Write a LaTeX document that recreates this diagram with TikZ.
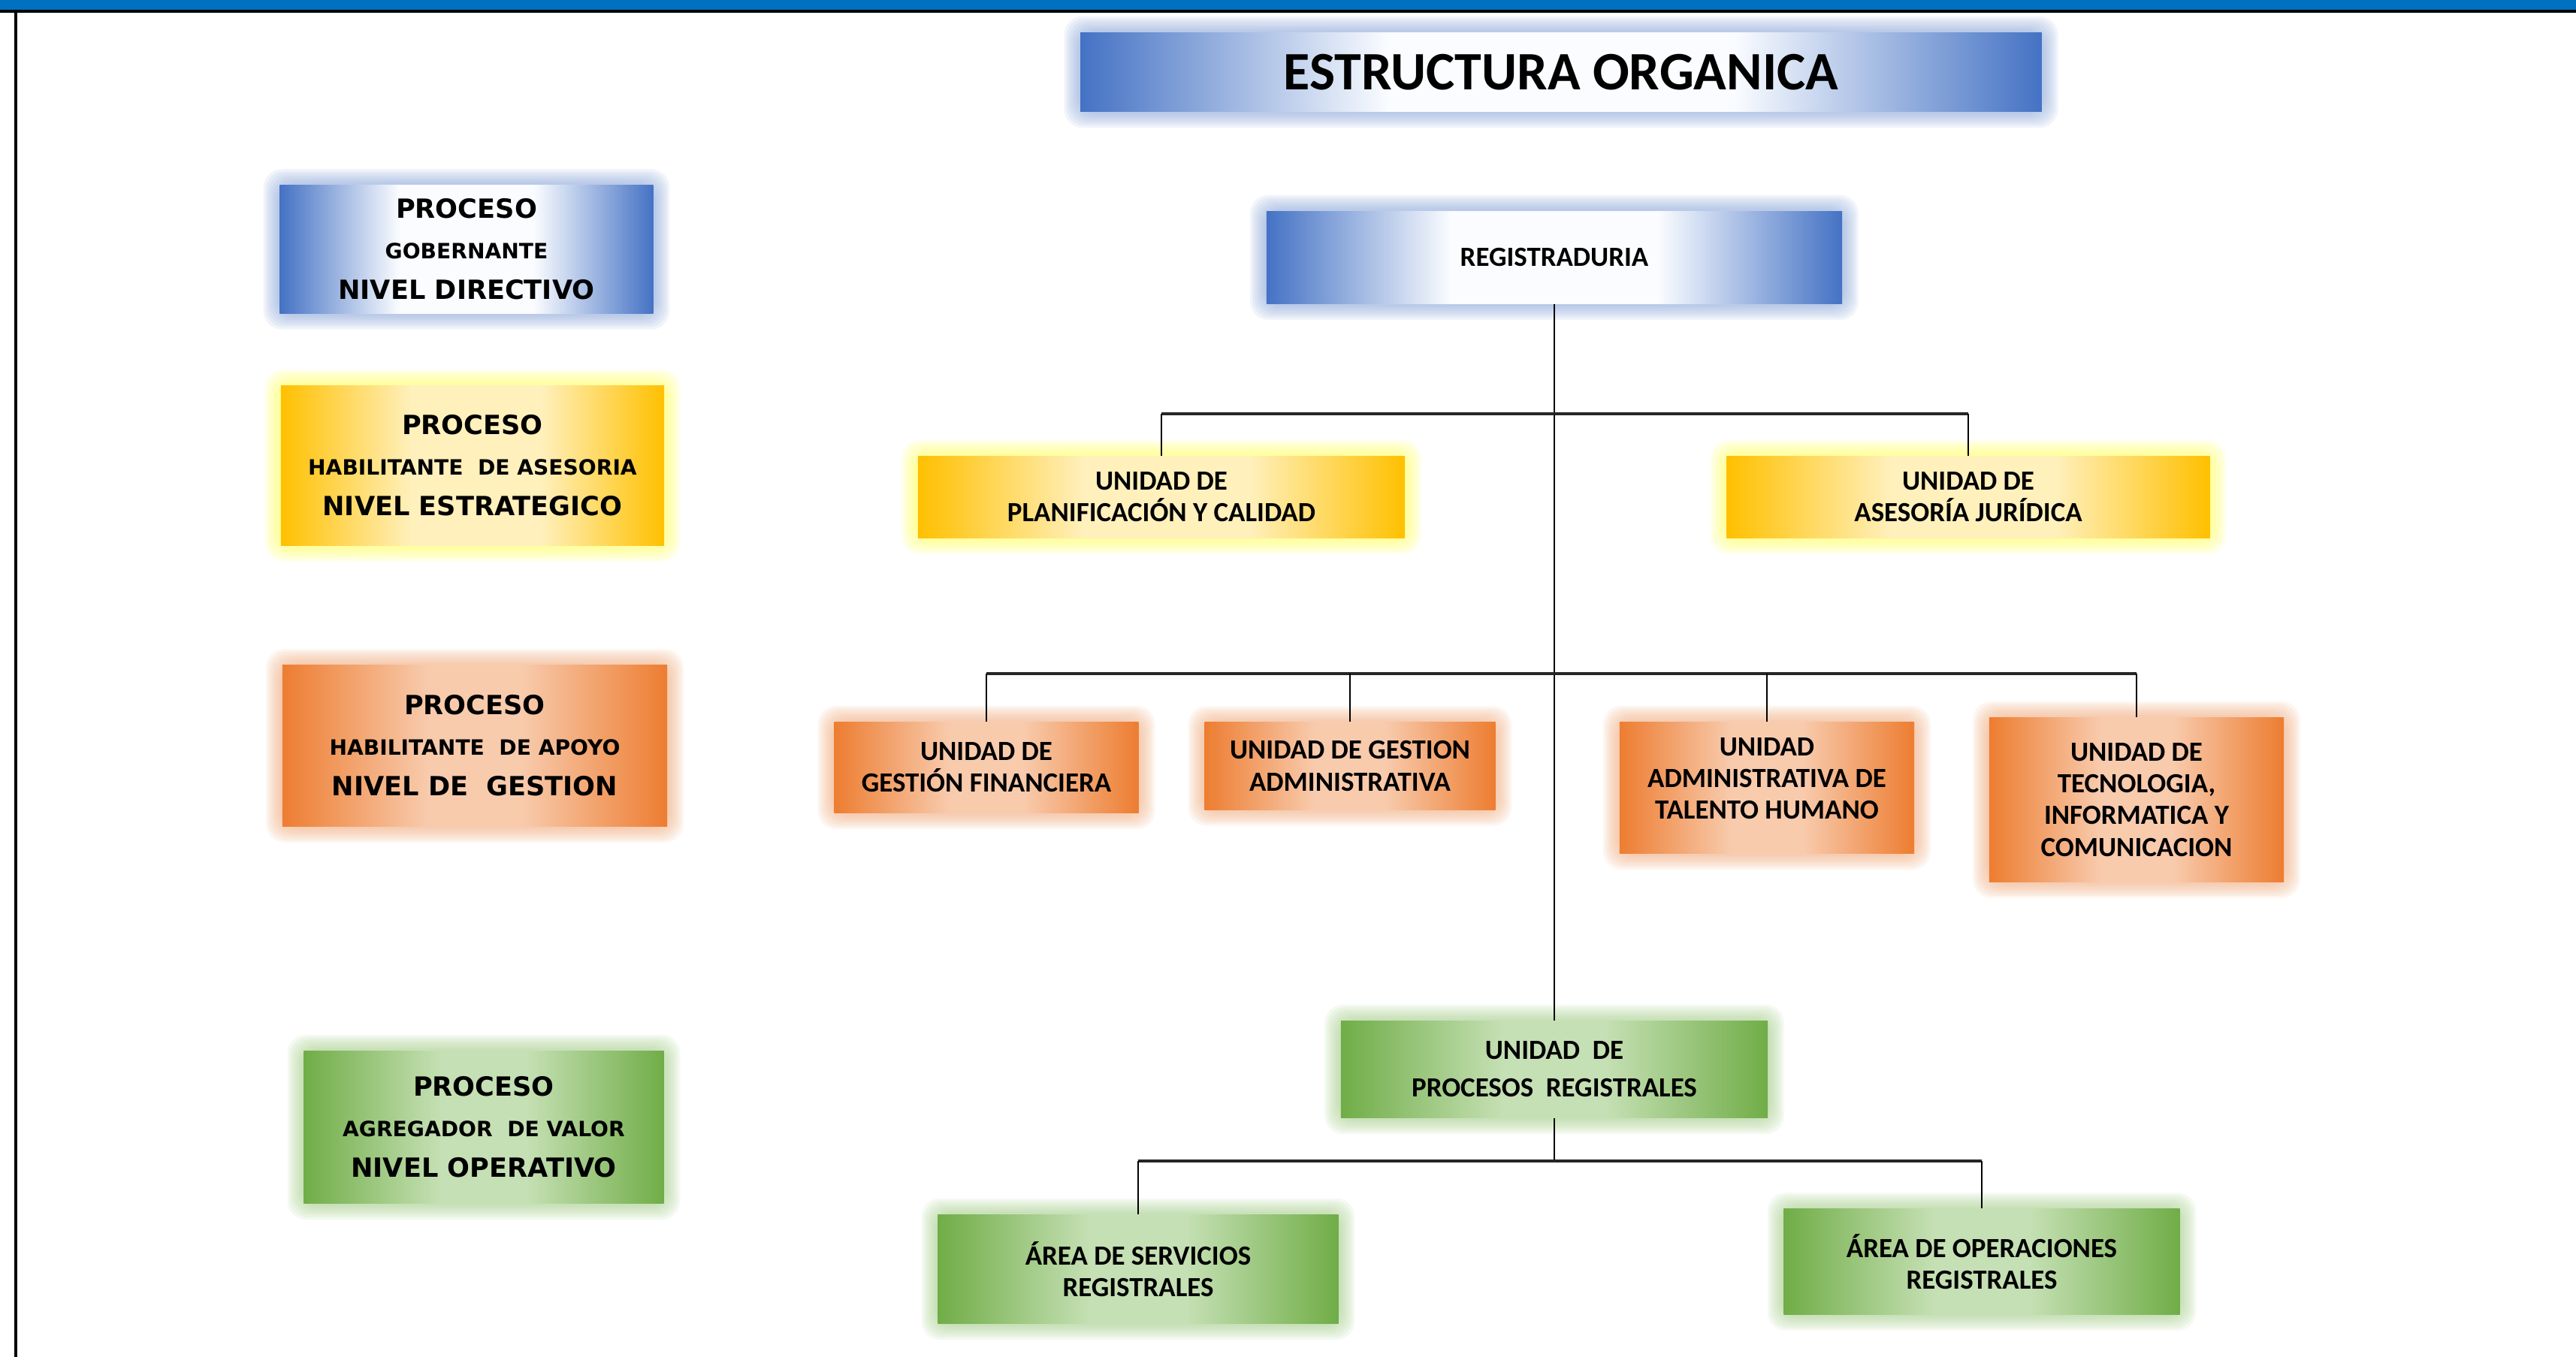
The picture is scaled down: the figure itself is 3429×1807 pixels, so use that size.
\documentclass[tikz,border=0pt]{standalone}
\usepackage{fontspec}
\setmainfont{Carlito}
\newfontfamily\legfont{DejaVu Sans}
\usetikzlibrary{backgrounds}
\definecolor{bandblue}{HTML}{0070C0}
\definecolor{bdark}{HTML}{4472C4}
\definecolor{bmid}{HTML}{FAFCFF}
\definecolor{bglow}{HTML}{8FAADC}
\definecolor{ydark}{HTML}{FFC000}
\definecolor{ymid}{HTML}{FFF0BC}
\definecolor{yglow}{HTML}{FFFF66}
\definecolor{odark}{HTML}{ED7D31}
\definecolor{omid}{HTML}{F8CBAD}
\definecolor{oglow}{HTML}{F4B183}
\definecolor{gdark}{HTML}{70AD47}
\definecolor{gmid}{HTML}{C5E0B4}
\definecolor{gglow}{HTML}{A9D18E}
% shading box 25bp..75bp maps onto the path
\pgfdeclarehorizontalshading{blueshade}{100bp}{color(0bp)=(bdark); color(25bp)=(bdark); color(41bp)=(bmid); color(59bp)=(bmid); color(75bp)=(bdark); color(100bp)=(bdark)}
\pgfdeclarehorizontalshading{yelshade}{100bp}{color(0bp)=(ydark); color(25bp)=(ydark); color(42bp)=(ymid); color(59bp)=(ymid); color(75bp)=(ydark); color(100bp)=(ydark)}
\pgfdeclarehorizontalshading{orashade}{100bp}{color(0bp)=(odark); color(25bp)=(odark); color(44bp)=(omid); color(56bp)=(omid); color(75bp)=(odark); color(100bp)=(odark)}
\pgfdeclarehorizontalshading{greshade}{100bp}{color(0bp)=(gdark); color(25bp)=(gdark); color(44bp)=(gmid); color(56bp)=(gmid); color(75bp)=(gdark); color(100bp)=(gdark)}
\newcommand\unitfont{\bfseries\fontsize{10.5}{12}\selectfont}
\newcommand\legbig{\legfont\bfseries\fontsize{10}{15.3}\selectfont}
\newcommand\legsmall{\fontsize{8}{15.3}\selectfont}
\tikzset{
  box/.style={rectangle, inner sep=0pt, align=center, text=black},
  bluebox/.style={box, shading=blueshade},
  yelbox/.style={box, shading=yelshade},
  orabox/.style={box, shading=orashade},
  grebox/.style={box, shading=greshade},
  unit/.style={font=\unitfont},
  legend/.style={font=\legbig},
  vline/.style={draw=black, line width=0.8pt},
  hbar/.style={draw=black!85, line width=1.4pt},
}
\begin{document}
\begin{tikzpicture}[x=0.01cm, y=-0.01cm]
\useasboundingbox (0,0) rectangle (3429,1807);
% frame
\fill[bandblue] (0,0) rectangle (3429,13);
\fill[black] (0,13) rectangle (3429,17);
\fill[black] (19,13) rectangle (23,1807);

% title
\node[bluebox, minimum width=12.79cm, minimum height=1.05cm,
      font=\bfseries\fontsize{20.5}{24}\selectfont] (title) at (2078,96) {ESTRUCTURA ORGANICA};

% legend
\node[bluebox, legend, minimum width=4.97cm, minimum height=1.70cm] (lgov) at (621,332)
  {PROCESO\\{\legsmall GOBERNANTE}\\NIVEL DIRECTIVO};
\node[yelbox, legend, minimum width=5.10cm, minimum height=2.12cm] (lase) at (629,620)
  {PROCESO\\{\legsmall HABILITANTE\ \ DE ASESORIA}\\NIVEL ESTRATEGICO};
\node[orabox, legend, minimum width=5.12cm, minimum height=2.14cm] (lapo) at (632,993)
  {PROCESO\\{\legsmall HABILITANTE\ \ DE APOYO}\\NIVEL DE\ \ GESTION};
\node[grebox, legend, minimum width=4.79cm, minimum height=2.03cm] (lope) at (644,1501)
  {PROCESO\\{\legsmall AGREGADOR\ \ DE VALOR}\\NIVEL OPERATIVO};

% org chart
\node[bluebox, unit, minimum width=7.66cm, minimum height=1.23cm] (reg) at (2069,343) {REGISTRADURIA};
\node[yelbox, unit, minimum width=6.48cm, minimum height=1.09cm] (plan) at (1546,662)
  {UNIDAD DE\\PLANIFICACIÓN Y CALIDAD};
\node[yelbox, unit, minimum width=6.43cm, minimum height=1.09cm] (jur) at (2620,662)
  {UNIDAD DE\\ASESORÍA JURÍDICA};
\node[orabox, unit, minimum width=4.05cm, minimum height=1.21cm] (fin) at (1313,1022)
  {UNIDAD DE\\GESTIÓN FINANCIERA};
\node[orabox, unit, minimum width=3.87cm, minimum height=1.16cm] (adm) at (1797,1020)
  {UNIDAD DE GESTION\\ADMINISTRATIVA};
\node[orabox, unit, minimum width=3.92cm, minimum height=1.75cm, text depth=0.25cm] (tal) at (2352,1049)
  {UNIDAD\\ADMINISTRATIVA DE\\TALENTO HUMANO};
\node[orabox, unit, minimum width=3.92cm, minimum height=2.18cm] (tec) at (2844,1065)
  {UNIDAD DE\\TECNOLOGIA,\\INFORMATICA Y\\COMUNICACION};
\node[grebox, unit, minimum width=5.68cm, minimum height=1.29cm, font=\bfseries\fontsize{10.5}{14.2}\selectfont] (proc) at (2069,1424)
  {UNIDAD\ \ DE\\PROCESOS\ \ REGISTRALES};
\node[grebox, unit, minimum width=5.33cm, minimum height=1.45cm] (serv) at (1515,1690)
  {ÁREA DE SERVICIOS\\REGISTRALES};
\node[grebox, unit, minimum width=5.27cm, minimum height=1.40cm] (oper) at (2638,1680)
  {ÁREA DE OPERACIONES\\REGISTRALES};

% glows
\begin{pgfonlayer}{background}
\fill[white] (0,17) rectangle (3429,1807);
\foreach \n/\c in {title/bglow, lgov/bglow, reg/bglow, lase/yglow, plan/yglow, jur/yglow,
  lapo/oglow, fin/oglow, adm/oglow, tal/oglow, tec/oglow, lope/gglow, proc/gglow, serv/gglow, oper/gglow}{
  \foreach \k in {3,6,...,21}
    \fill[\c, opacity=0.12, rounded corners=7pt]
      ([xshift=-\k*0.01cm, yshift=\k*0.01cm]\n.north west) rectangle
      ([xshift=\k*0.01cm, yshift=-\k*0.01cm]\n.south east);
}
\end{pgfonlayer}

% connectors
\coordinate (bar1) at (2069,551);
\coordinate (bar2) at (2069,897);
\coordinate (bar3) at (2069,1546);
\draw[vline] (reg.south) -- (proc.north);
\draw[hbar] (plan.north |- bar1) -- (jur.north |- bar1);
\draw[vline] (plan.north |- bar1) -- (plan.north);
\draw[vline] (jur.north |- bar1) -- (jur.north);
\draw[hbar] (fin.north |- bar2) -- (tec.north |- bar2);
\foreach \n in {fin, adm, tal, tec}
  \draw[vline] (\n.north |- bar2) -- (\n.north);
\draw[vline] (proc.south) -- (bar3);
\draw[hbar] (serv.north |- bar3) -- (oper.north |- bar3);
\draw[vline] (serv.north |- bar3) -- (serv.north);
\draw[vline] (oper.north |- bar3) -- (oper.north);
\end{tikzpicture}
\end{document}
